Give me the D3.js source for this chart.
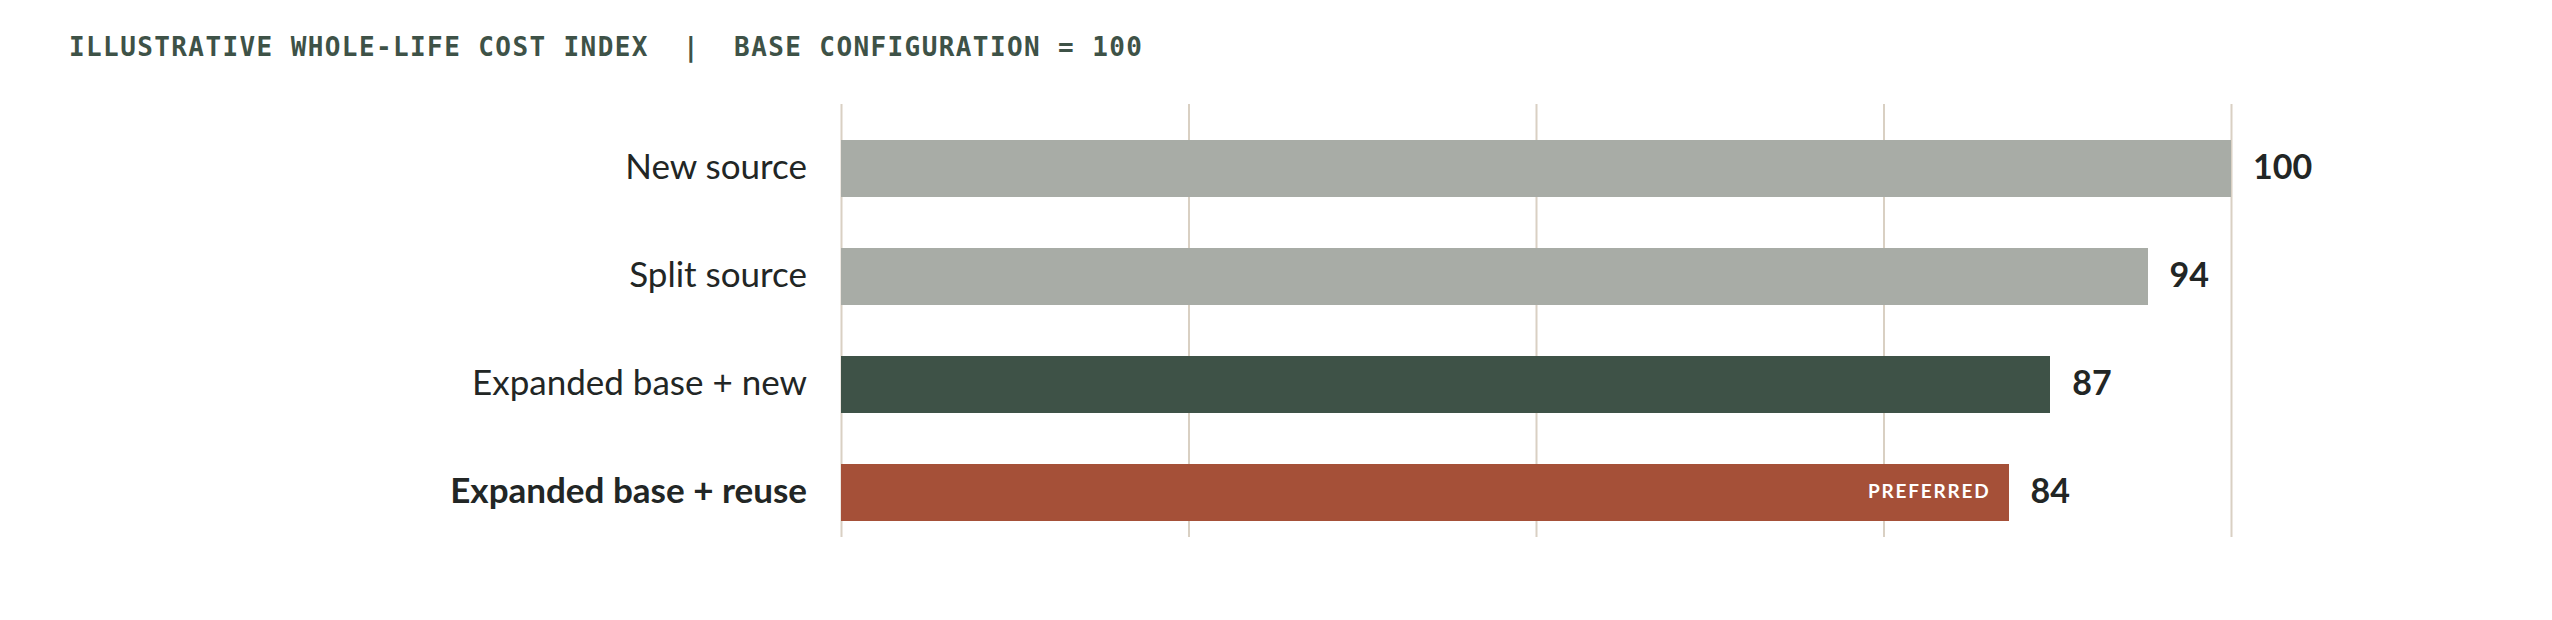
<!DOCTYPE html>
<html>
<head>
<meta charset="utf-8">
<script src="https://cdn.jsdelivr.net/npm/d3@7"></script>
<style>
  html, body { margin: 0; padding: 0; background: #ffffff; }
  svg { display: block; }
</style>
</head>
<body>
<svg id="chart" width="2552" height="620"></svg>
<script>
// ---- data ----
const categories = ["New source", "Split source", "Expanded base + new", "Expanded base + reuse"];
const values = [100, 94, 87, 84];
const barColors = ["#a8aca6", "#a8aca6", "#3e5247", "#a55038"];
const highlighted = [false, false, false, true];
const tickValues = [0, 25, 50, 75, 100];
const titleText = "ILLUSTRATIVE WHOLE-LIFE COST INDEX  |  BASE CONFIGURATION = 100";
const badgeText = "PREFERRED";

const svg = d3.select("#chart");

const x = d3.scaleLinear().domain([0, 100]).range([841, 2231]);
const y = d3.scaleBand().domain(categories).range([115, 547])
  .paddingInner(0.472).paddingOuter(0.236).round(true);

// title
svg.append("text")
  .attr("x", 69).attr("y", 56)
  .attr("font-family", "'DejaVu Sans Mono', monospace")
  .attr("font-weight", 700)
  .attr("font-size", 26)
  .attr("letter-spacing", "1.4px")
  .attr("fill", "#3e5247")
  .attr("xml:space", "preserve")
  .style("white-space", "pre")
  .text(titleText);

// gridlines
const grid = svg.append("g")
  .attr("transform", "translate(0,537)")
  .call(d3.axisBottom(x).tickValues(tickValues).tickSize(-433).tickFormat(""));
grid.select(".domain").remove();
grid.selectAll(".tick line").attr("stroke", "#d9d0c3").attr("stroke-width", 2);

const rows = categories.map((c, i) => ({ c, v: values[i], col: barColors[i], hl: highlighted[i] }));

// bars
svg.append("g").selectAll("rect").data(rows).join("rect")
  .attr("x", x(0))
  .attr("y", d => y(d.c))
  .attr("width", d => x(d.v) - x(0))
  .attr("height", y.bandwidth())
  .attr("fill", d => d.col)
  .attr("shape-rendering", "crispEdges");

// category labels
svg.append("g").selectAll("text").data(rows).join("text")
  .attr("x", x(0) - 34)
  .attr("y", d => y(d.c) + y.bandwidth() / 2)
  .attr("dy", "0.29em")
  .attr("text-anchor", "end")
  .attr("font-family", "Lato, 'Open Sans', sans-serif")
  .attr("font-size", 35)
  .attr("font-weight", d => d.hl ? 700 : 400)
  .attr("fill", "#222625")
  .text(d => d.c);

// value labels
svg.append("g").selectAll("text").data(rows).join("text")
  .attr("x", d => x(d.v) + 22)
  .attr("y", d => y(d.c) + y.bandwidth() / 2)
  .attr("dy", "0.3em")
  .attr("font-family", "Lato, 'Open Sans', sans-serif")
  .attr("font-size", 34)
  .attr("font-weight", 700)
  .attr("fill", "#222625")
  .text(d => d.v);

// badge inside highlighted bar
svg.append("g").selectAll("text").data(rows.filter(d => d.hl)).join("text")
  .attr("x", d => x(d.v) - 18)
  .attr("y", d => y(d.c) + y.bandwidth() / 2)
  .attr("dy", "0.27em")
  .attr("text-anchor", "end")
  .attr("font-family", "Lato, 'Open Sans', sans-serif")
  .attr("font-size", 19)
  .attr("font-weight", 700)
  .attr("letter-spacing", "1.8px")
  .attr("fill", "#ffffff")
  .text(badgeText);
</script>
</body>
</html>
